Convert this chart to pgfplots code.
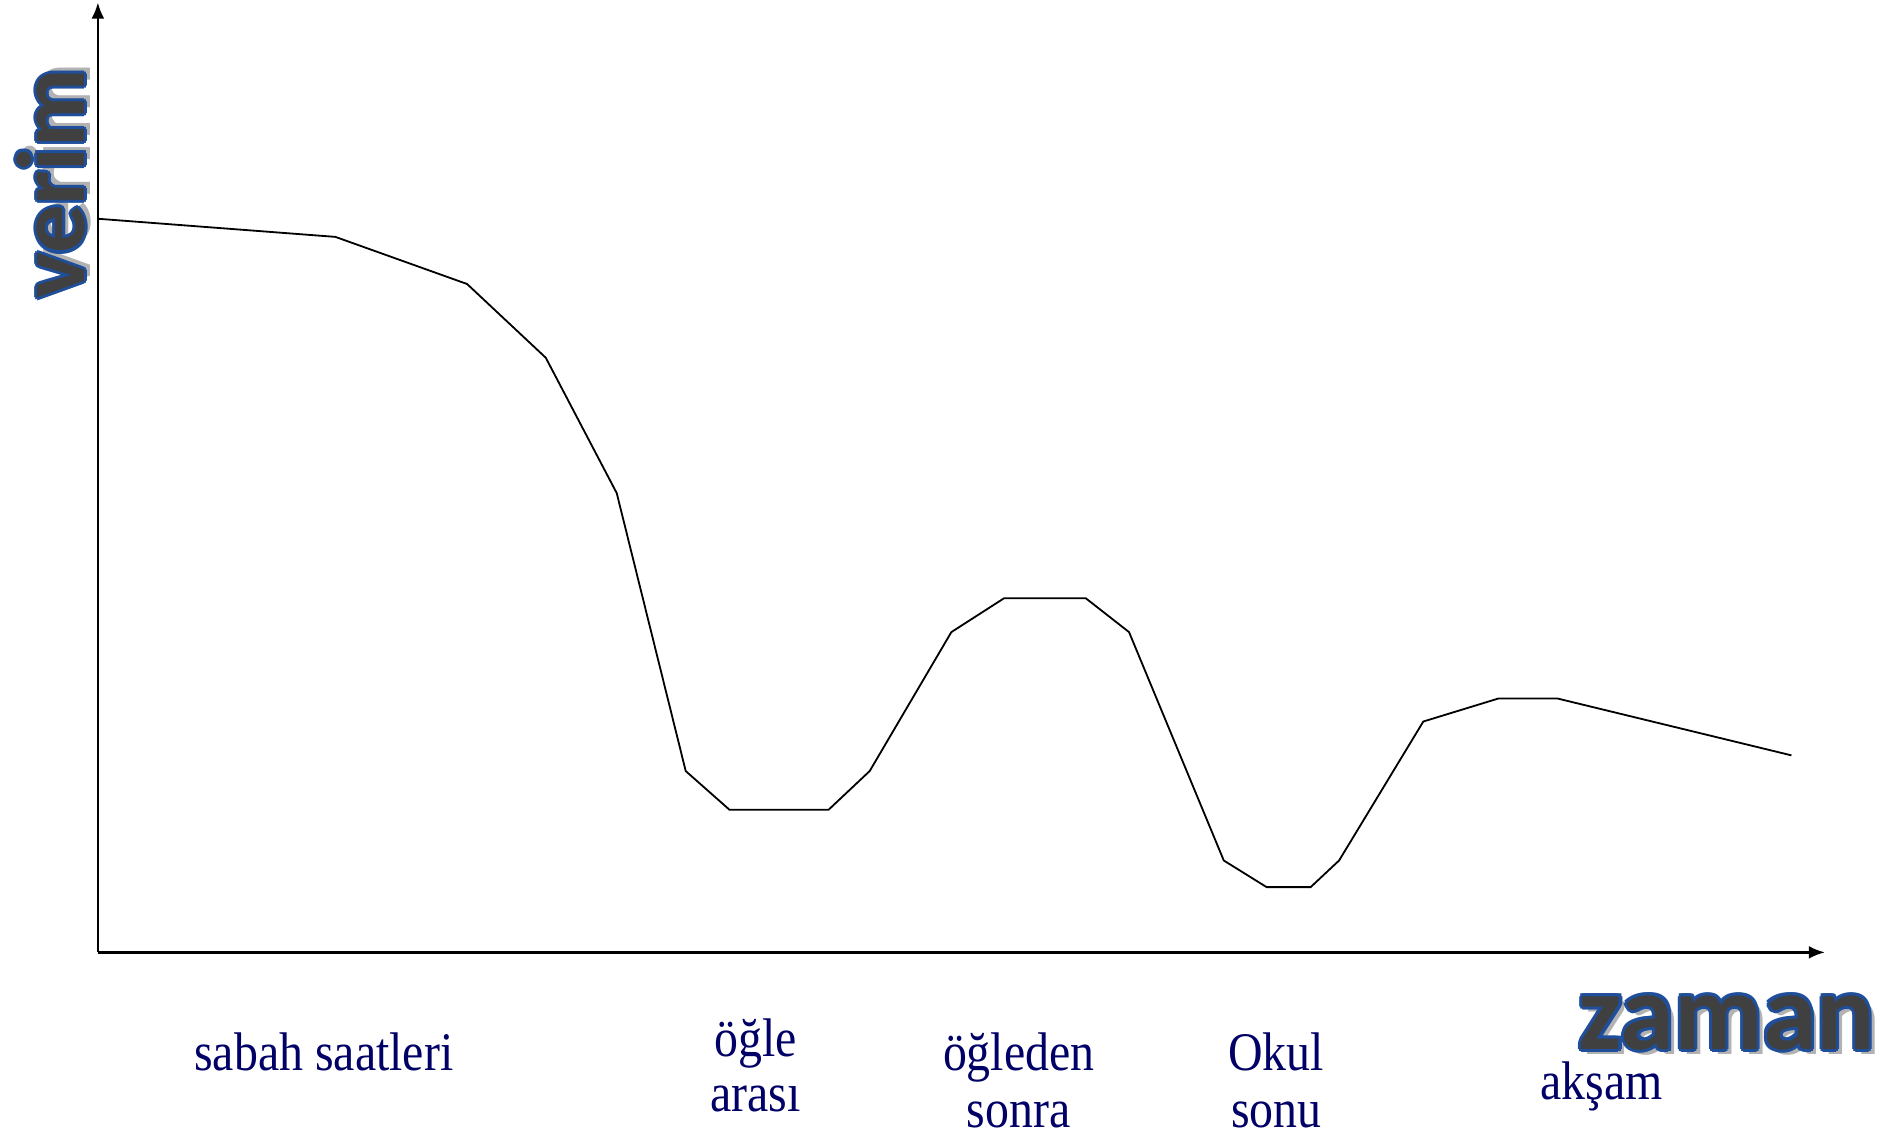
\documentclass[border=0pt]{standalone}
\usepackage{pgfplots}
\pgfplotsset{compat=1.18}
\usepackage{fontspec}
\setmainfont{Liberation Serif}
\newfontfamily\calib{Carlito}
\usetikzlibrary{arrows.meta}
\definecolor{labnavy}{RGB}{0,0,102}
\definecolor{olblue}{RGB}{31,78,154}
\definecolor{fillgray}{RGB}{64,64,64}
\newcommand\olcopy[3]{\makebox[0pt][l]{\hspace*{#1}\raisebox{#2}{#3}}}
\newcommand\outlined[1]{%
 \olcopy{1.4pt}{-1.4pt}{\textcolor{black!30}{#1}}%
 \olcopy{0.75pt}{0pt}{\textcolor{olblue}{#1}}%
 \olcopy{-0.75pt}{0pt}{\textcolor{olblue}{#1}}%
 \olcopy{0pt}{0.75pt}{\textcolor{olblue}{#1}}%
 \olcopy{0pt}{-0.75pt}{\textcolor{olblue}{#1}}%
 \olcopy{0.53pt}{0.53pt}{\textcolor{olblue}{#1}}%
 \olcopy{-0.53pt}{0.53pt}{\textcolor{olblue}{#1}}%
 \olcopy{0.53pt}{-0.53pt}{\textcolor{olblue}{#1}}%
 \olcopy{-0.53pt}{-0.53pt}{\textcolor{olblue}{#1}}%
 \textcolor{fillgray}{#1}}
\begin{document}
\begin{tikzpicture}
\begin{axis}[
  scale only axis,
  width=428.7pt, height=235.8pt,
  xmin=81, xmax=1510, ymin=0, ymax=786,
  axis lines=left,
  axis line style={line width=0.6pt, -{Latex[length=4pt,width=3.2pt]}},
  xtick=\empty, ytick=\empty,
  clip=false,
]
\addplot[black, line width=0.45pt] coordinates {
(81,607) (277.5,592) (386.5,553) (451.6,492) (510.3,380) (567.4,150)
(603.6,118) (685.6,118) (719.6,150) (787.2,265) (830.8,293) (898.4,293)
(934.2,265) (1012.6,76) (1048,54) (1084.5,54) (1108,76) (1177.7,191)
(1239.7,210) (1288.9,210) (1482.3,163)
};
\path (axis cs:0,-154) rectangle (axis cs:1568,788);
\begin{scope}[every node/.style={text=labnavy, font=\fontsize{13.5}{16}\selectfont, xscale=0.88, anchor=base, inner sep=0pt}]
\node at (axis cs:268,-98) {sabah saatleri};
\node at (axis cs:625,-86) {öğle};
\node at (axis cs:625,-132) {arası};
\node at (axis cs:843,-98) {öğleden};
\node at (axis cs:843,-145) {sonra};
\node at (axis cs:1056,-98) {Okul};
\node at (axis cs:1056,-145) {sonu};
\node at (axis cs:1325,-122) {akşam};
\end{scope}
\node[anchor=base, inner sep=0pt, font=\calib\bfseries\fontsize{27}{30}\selectfont] at (axis cs:1429,-80) {\outlined{zaman}};
\node[anchor=base, rotate=90, inner sep=0pt, font=\calib\bfseries\fontsize{24}{28}\selectfont] at (axis cs:70,636) {\outlined{verim}};
\end{axis}
\end{tikzpicture}
\end{document}
